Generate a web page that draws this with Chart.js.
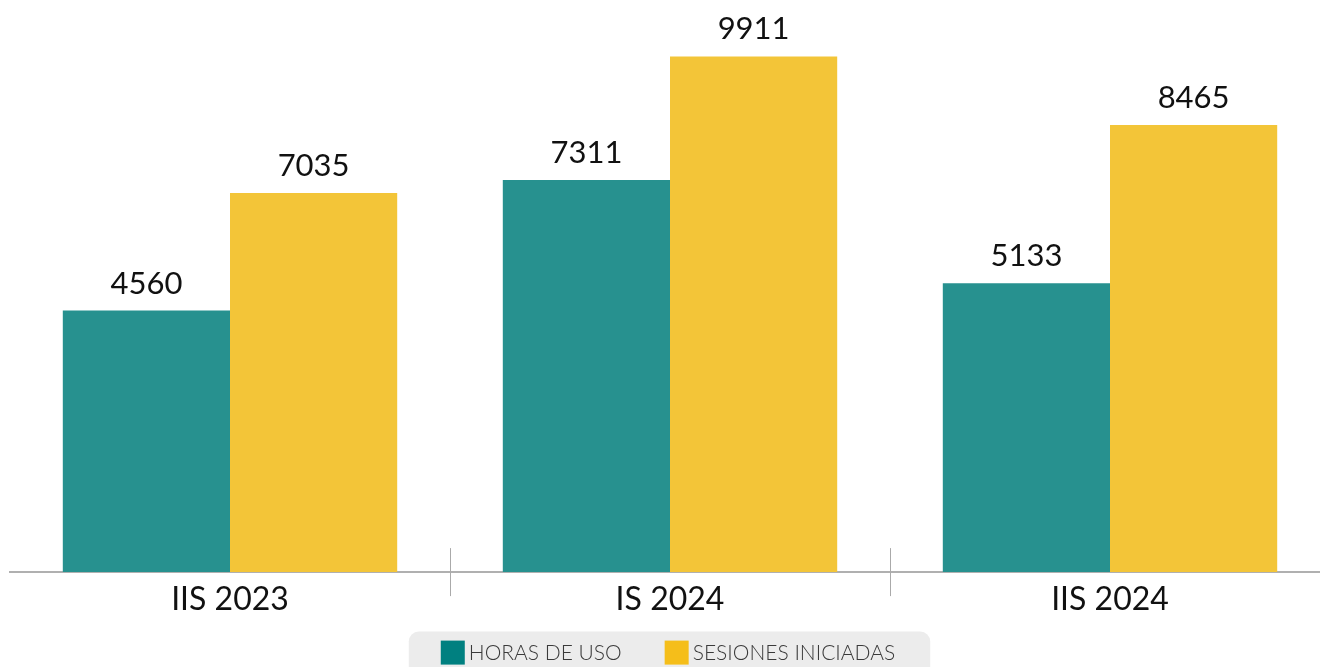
<!DOCTYPE html>
<html>
<head>
<meta charset="utf-8">
<script src="https://cdn.jsdelivr.net/npm/chart.js@4"></script>
<style>
  html, body { margin: 0; padding: 0; background: #fff; overflow: hidden; }
  canvas { display: block; }
</style>
</head>
<body>
<canvas id="usoChart" width="1340" height="667"></canvas>
<script>
// periods and the two series
const periodos = ["IIS 2023", "IS 2024", "IIS 2024"];
const horasDeUso = [4560, 7311, 5133];
const sesionesIniciadas = [7035, 9911, 8465];
const serieNombres = ["HORAS DE USO", "SESIONES INICIADAS"];

const barColors = ["#27918F", "#F3C538"];
const legendColors = ["#008080", "#F5BE1A"];
const yMin = -950;
const yMax = 11100;

// numbers above each bar
const valueLabels = {
  id: "valueLabels",
  afterDatasetsDraw(chart) {
    const ctx = chart.ctx;
    ctx.save();
    ctx.font = "31px Lato";
    ctx.fillStyle = "#111";
    ctx.textAlign = "center";
    ctx.textBaseline = "alphabetic";
    chart.data.datasets.forEach((ds, d) => {
      chart.getDatasetMeta(d).data.forEach((bar, i) => {
        ctx.fillText(ds.data[i], bar.x, bar.y - 17);
      });
    });
    ctx.restore();
  },
};

// separators between periods and the legend in its grey box
const extras = {
  id: "extras",
  afterDraw(chart) {
    const x = chart.scales.x;
    const ctx = chart.ctx;
    const base = chart.chartArea.bottom;
    ctx.save();
    ctx.strokeStyle = "#aaa";
    ctx.lineWidth = 1;
    for (let i = 0; i < periodos.length - 1; i++) {
      const bx = Math.round((x.getPixelForTick(i) + x.getPixelForTick(i + 1)) / 2) + 0.5;
      ctx.beginPath();
      ctx.moveTo(bx, base - 24);
      ctx.lineTo(bx, base + 24);
      ctx.stroke();
    }

    // legend
    ctx.font = "300 21px Lato";
    const sw = 24, gapText = 4, gapItem = 43;
    const items = chart.data.datasets.map((ds, i) => ({
      text: ds.label,
      color: legendColors[i],
      w: sw + gapText + ctx.measureText(ds.label).width,
    }));
    const total = items.reduce((s, it) => s + it.w, 0) + gapItem * (items.length - 1);
    const cx = (x.left + x.right) / 2 - 2;
    let lx = cx - total / 2;
    const top = base + 68.5;

    ctx.fillStyle = "#ececec";
    ctx.beginPath();
    ctx.roundRect(lx - 32, top - 9, total + 67, 60, 10);
    ctx.fill();

    ctx.textAlign = "left";
    ctx.textBaseline = "alphabetic";
    items.forEach((it) => {
      ctx.fillStyle = it.color;
      ctx.fillRect(lx, top, sw, sw);
      ctx.fillStyle = "#3a3a3a";
      ctx.fillText(it.text, lx + sw + gapText, top + 19.5);
      lx += it.w + gapItem;
    });
    ctx.restore();
  },
};

const ctx = document.getElementById("usoChart").getContext("2d");
const usoChart = new Chart(ctx, {
  type: "bar",
  data: {
    labels: periodos,
    datasets: [
      {
        label: serieNombres[0],
        data: horasDeUso,
        backgroundColor: barColors[0],
        base: yMin,
        barPercentage: 1,
        categoryPercentage: 0.76,
      },
      {
        label: serieNombres[1],
        data: sesionesIniciadas,
        backgroundColor: barColors[1],
        base: yMin,
        barPercentage: 1,
        categoryPercentage: 0.76,
      },
    ],
  },
  options: {
    responsive: false,
    animation: false,
    layout: { padding: { left: 10, right: 10, top: 0, bottom: 40.5 } },
    scales: {
      x: {
        grid: { display: false, drawTicks: false },
        border: { display: true, color: "#b0b0b0", width: 2 },
        ticks: { color: "#111", font: { family: "Lato", size: 32 }, padding: 8 },
      },
      y: {
        display: false,
        min: yMin,
        max: yMax,
      },
    },
    plugins: {
      legend: { display: false },
      tooltip: { enabled: false },
    },
  },
  plugins: [valueLabels, extras],
});
</script>
</body>
</html>
